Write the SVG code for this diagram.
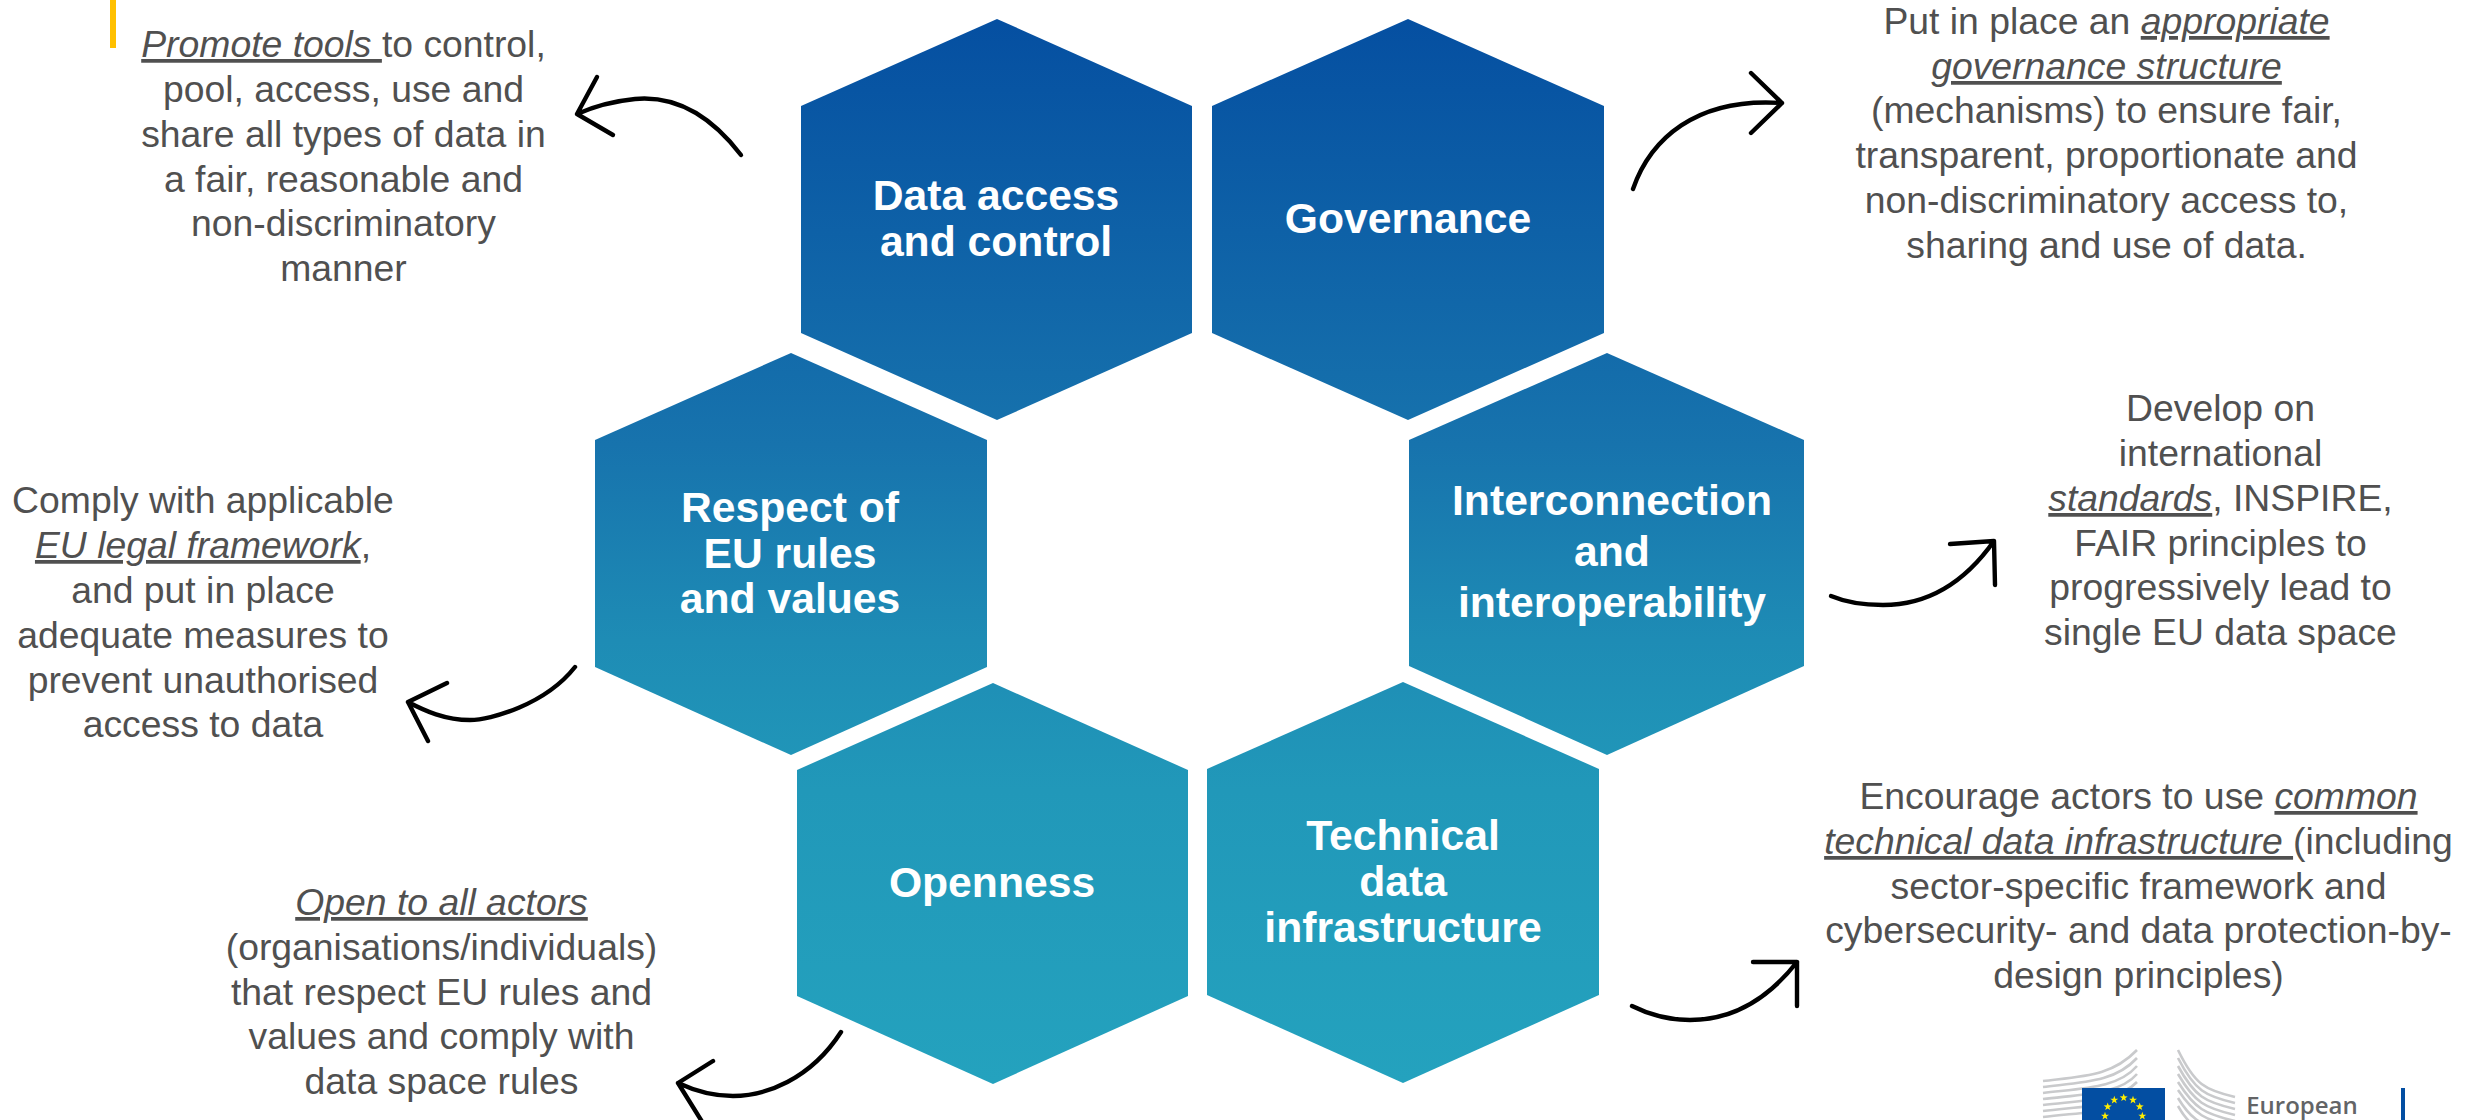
<svg xmlns="http://www.w3.org/2000/svg" xmlns:xlink="http://www.w3.org/1999/xlink" width="2468" height="1120" viewBox="0 0 2468 1120">
<style>
text{font-family:"Liberation Sans",Arial,sans-serif;text-anchor:middle}
.d{font-size:37.33px;fill:#505050}
.u{font-style:italic;text-decoration:underline}
.h{font-size:42.67px;font-weight:700;fill:#fff}
.hex{fill:url(#g)}
.arr{fill:none;stroke:#000;stroke-width:4.4;stroke-linecap:round;stroke-linejoin:round}
.lg{fill:none;stroke:#c9cacc;stroke-width:2.6}
</style>
<defs>
<linearGradient id="g" gradientUnits="userSpaceOnUse" x1="0" y1="19" x2="0" y2="1083">
<stop offset="0" stop-color="#054fa1"/>
<stop offset="0.4" stop-color="#1773ad"/>
<stop offset="0.584" stop-color="#1e8cb5"/>
<stop offset="0.725" stop-color="#2198b9"/>
<stop offset="1" stop-color="#24a2be"/>
</linearGradient>
<polygon id="star" fill="#ffed00" points="0,-4.2 1,-1.35 4,-1.3 1.6,.5 2.5,3.4 0,1.7 -2.5,3.4 -1.6,.5 -4,-1.3 -1,-1.35"/>
</defs>
<rect width="2468" height="1120" fill="#fff"/>
<rect x="110" y="0" width="6" height="48" fill="#ffc000"/>

<g id="node-data-access">
<polygon class="hex" points="997,19 1192,106 1192,333 997,420 801,333 801,106"/>
<text class="h" x="996" y="210">Data access</text>
<text class="h" x="996" y="256">and control</text>
</g>
<g id="node-governance">
<polygon class="hex" points="1408,19 1604,106 1604,333 1408,420 1212,333 1212,106"/>
<text class="h" x="1408" y="233">Governance</text>
</g>
<g id="node-respect">
<polygon class="hex" points="791,353 987,440 987,667 791,755 595,667 595,440"/>
<text class="h" x="790" y="522">Respect of</text>
<text class="h" x="790" y="568">EU rules</text>
<text class="h" x="790" y="613">and values</text>
</g>
<g id="node-interconnection">
<polygon class="hex" points="1607,353 1804,440 1804,666 1607,755 1409,666 1409,440"/>
<text class="h" x="1612" y="515">Interconnection</text>
<text class="h" x="1612" y="566">and</text>
<text class="h" x="1612" y="617">interoperability</text>
</g>
<g id="node-openness">
<polygon class="hex" points="993,683 1188,770 1188,996 993,1084 797,996 797,770"/>
<text class="h" x="992" y="897">Openness</text>
</g>
<g id="node-technical">
<polygon class="hex" points="1403,682 1599,769 1599,995 1403,1083 1207,995 1207,769"/>
<text class="h" x="1403" y="850">Technical</text>
<text class="h" x="1403" y="896">data</text>
<text class="h" x="1403" y="942">infrastructure</text>
</g>

<g id="connectors" class="arr">
<path d="M741,155C705,108 668,96 635,99C615,101 595,106 577,114M597,77L577,114L613,135"/>
<path d="M1633,189C1650,140 1695,97 1782,103M1751,73L1782,103L1751,133"/>
<path d="M575,667C545,705 490,720 470,720C445,720 425,711 408,702M447,683L408,702L428,741"/>
<path d="M841,1032C810,1080 765,1096 733,1096C712,1096 693,1090 678,1083M713,1061L678,1083L706,1128"/>
<path d="M1831,596C1850,604 1868,605 1883,605C1935,605 1970,575 1994,541M1950,544L1994,541L1995,585"/>
<path d="M1632,1006C1650,1015 1672,1020 1690,1020C1740,1020 1775,990 1797,962M1753,962L1797,962L1797,1006"/>
</g>

<g id="desc-data-access">
<text class="d" x="343.5" y="57"><tspan class="u">Promote tools </tspan>to control,</text>
<text class="d" x="343.5" y="102">pool, access, use and</text>
<text class="d" x="343.5" y="147">share all types of data in</text>
<text class="d" x="343.5" y="192">a fair, reasonable and</text>
<text class="d" x="343.5" y="236">non-discriminatory</text>
<text class="d" x="343.5" y="281">manner</text>
</g>
<g id="desc-governance">
<text class="d" x="2106.5" y="34">Put in place an <tspan class="u">appropriate</tspan></text>
<text class="d" x="2106.5" y="79"><tspan class="u">governance structure</tspan></text>
<text class="d" x="2106.5" y="123">(mechanisms) to ensure fair,</text>
<text class="d" x="2106.5" y="168">transparent, proportionate and</text>
<text class="d" x="2106.5" y="213">non-discriminatory access to,</text>
<text class="d" x="2106.5" y="258">sharing and use of data.</text>
</g>
<g id="desc-respect">
<text class="d" x="203" y="513">Comply with applicable</text>
<text class="d" x="203" y="558"><tspan class="u">EU legal framework</tspan>,</text>
<text class="d" x="203" y="603">and put in place</text>
<text class="d" x="203" y="648">adequate measures to</text>
<text class="d" x="203" y="693">prevent unauthorised</text>
<text class="d" x="203" y="737">access to data</text>
</g>
<g id="desc-openness">
<text class="d" x="441.5" y="915"><tspan class="u">Open to all actors</tspan></text>
<text class="d" x="441.5" y="960">(organisations/individuals)</text>
<text class="d" x="441.5" y="1005">that respect EU rules and</text>
<text class="d" x="441.5" y="1049">values and comply with</text>
<text class="d" x="441.5" y="1094">data space rules</text>
</g>
<g id="desc-interconnection">
<text class="d" x="2220.5" y="421">Develop on</text>
<text class="d" x="2220.5" y="466">international</text>
<text class="d" x="2220.5" y="511"><tspan class="u">standards</tspan>, INSPIRE,</text>
<text class="d" x="2220.5" y="556">FAIR principles to</text>
<text class="d" x="2220.5" y="600">progressively lead to</text>
<text class="d" x="2220.5" y="645">single EU data space</text>
</g>
<g id="desc-technical">
<text class="d" x="2138.5" y="809">Encourage actors to use <tspan class="u">common</tspan></text>
<text class="d" x="2138.5" y="854"><tspan class="u">technical data infrastructure </tspan>(including</text>
<text class="d" x="2138.5" y="899">sector-specific framework and</text>
<text class="d" x="2138.5" y="943">cybersecurity- and data protection-by-</text>
<text class="d" x="2138.5" y="988">design principles)</text>
</g>

<g id="logo">
<g class="lg">
<path d="M2043,1081C2085,1076 2112,1076 2137,1050"/>
<path d="M2043,1087C2085,1082 2115,1082 2137,1058"/>
<path d="M2043,1093C2085,1088 2118,1088 2137,1066"/>
<path d="M2043,1099C2085,1094 2120,1094 2137,1074"/>
<path d="M2043,1105C2085,1100 2120,1100 2137,1082"/>
<path d="M2043,1111C2085,1106 2120,1106 2137,1090"/>
<path d="M2043,1117C2085,1112 2120,1112 2137,1098"/>
<path d="M2178,1050C2195,1085 2205,1090 2235,1097"/>
<path d="M2178,1058C2195,1091 2205,1096 2235,1103"/>
<path d="M2178,1066C2195,1097 2205,1102 2235,1109"/>
<path d="M2178,1074C2195,1103 2205,1108 2235,1115"/>
<path d="M2178,1082C2195,1109 2205,1114 2235,1121"/>
<path d="M2178,1090C2195,1115 2205,1120 2235,1127"/>
<path d="M2178,1098C2190,1118 2200,1124 2220,1130"/>
<path d="M2178,1106C2186,1120 2192,1126 2205,1130"/>
</g>
<rect x="2082" y="1088" width="83" height="32" fill="#034ea2"/>
<use xlink:href="#star" href="#star" x="2114.3" y="1100"/>
<use xlink:href="#star" href="#star" x="2123.7" y="1097.7"/>
<use xlink:href="#star" href="#star" x="2133" y="1100"/>
<use xlink:href="#star" href="#star" x="2139.7" y="1106.7"/>
<use xlink:href="#star" href="#star" x="2142.3" y="1116"/>
<use xlink:href="#star" href="#star" x="2107.7" y="1106.7"/>
<use xlink:href="#star" href="#star" x="2105" y="1116"/>
<text x="2302" y="1114" style="font-family:'Open Sans',sans-serif;font-size:24px;font-weight:600;fill:#636466">European</text>
<rect x="2401" y="1088" width="4" height="32" fill="#034ea2"/>
</g>
</svg>
